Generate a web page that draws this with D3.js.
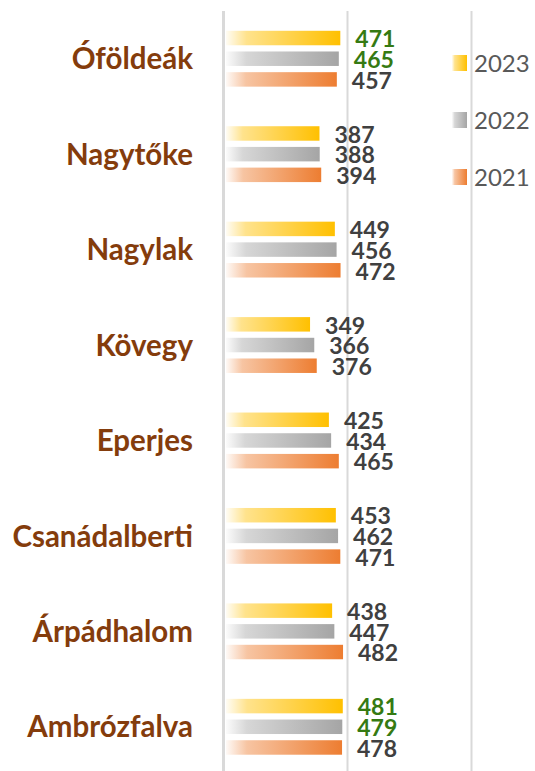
<!DOCTYPE html>
<html>
<head>
<meta charset="utf-8">
<script src="https://cdn.jsdelivr.net/npm/d3@7"></script>
<style>
 body { margin: 0; background: #fff; }
 .cat { font-family: Lato, "Noto Sans", sans-serif; font-weight: bold; fill: #843C0C; }
 .val { font-family: Lato, "Noto Sans", sans-serif; font-weight: bold; }
 .leg { font-family: Lato, "Noto Sans", sans-serif; fill: #595959; }
</style>
</head>
<body>
<svg id="chart" width="535" height="771"></svg>
<script>
 const categories = ['Óföldeák', 'Nagytőke', 'Nagylak', 'Kövegy', 'Eperjes', 'Csanádalberti', 'Árpádhalom', 'Ambrózfalva'];
 const years = ['2023', '2022', '2021'];
 const v2023 = [471, 387, 449, 349, 425, 453, 438, 481];
 const v2022 = [465, 388, 456, 366, 434, 462, 447, 479];
 const v2021 = [457, 394, 472, 376, 465, 471, 482, 478];
 // which labels are printed green (per category, per year)
 const green2023 = [true, false, false, false, false, false, false, true];
 const green2022 = [true, false, false, false, false, false, false, true];
 const green2021 = [false, false, false, false, false, false, false, false];
 const gridTicks = [0, 500, 1000];

 const series = [
   { year: years[0], values: v2023, green: green2023, color: '#FFC000' },
   { year: years[1], values: v2022, green: green2022, color: '#A5A5A5' },
   { year: years[2], values: v2021, green: green2021, color: '#ED7D31' }
 ];

 const svg = d3.select('#chart');
 const x = d3.scaleLinear().domain([0, 1000]).range([223.5, 471.5]);
 const y = d3.scaleBand().domain(categories).range([11, 774.5]);
 const sub = d3.scaleBand().domain(years).range([-30, 30]).paddingInner(0.3).paddingOuter(0.1);

 // gradients
 const defs = svg.append('defs');
 series.forEach((s, i) => {
   const g = defs.append('linearGradient').attr('id', 'grad' + i)
     .attr('x1', '0%').attr('x2', '100%').attr('y1', '0%').attr('y2', '0%');
   g.append('stop').attr('offset', '0%').attr('stop-color', s.color).attr('stop-opacity', 0.04);
   g.append('stop').attr('offset', '18%').attr('stop-color', s.color).attr('stop-opacity', 0.45);
   g.append('stop').attr('offset', '100%').attr('stop-color', s.color).attr('stop-opacity', 1);
 });

 // gridlines
 svg.selectAll('.grid')
   .data(gridTicks)
   .enter()
   .append('line')
   .attr('x1', d => x(d)).attr('x2', d => x(d))
   .attr('y1', 11).attr('y2', 771)
   .attr('stroke', '#D9D9D9')
   .attr('stroke-width', d => d === 0 ? 3 : 2);

 // bars + value labels
 series.forEach((s, i) => {
   const grp = svg.append('g');
   grp.selectAll('rect')
     .data(categories)
     .enter()
     .append('rect')
     .attr('x', x(0) + 2.5)
     .attr('y', c => y(c) + y.bandwidth() / 2 + sub(s.year))
     .attr('width', (c, j) => x(s.values[j]) - x(0) - 2.5)
     .attr('height', sub.bandwidth())
     .attr('fill', 'url(#grad' + i + ')');

   grp.selectAll('text')
     .data(categories)
     .enter()
     .append('text')
     .attr('class', 'val')
     .attr('x', (c, j) => x(s.values[j]) + 15)
     .attr('y', c => y(c) + y.bandwidth() / 2 + sub(s.year) + sub.bandwidth() / 2 + 1)
     .attr('dy', '0.36em')
     .attr('font-size', 23)
     .attr('fill', (c, j) => s.green[j] ? '#357A12' : '#404040')
     .text((c, j) => s.values[j]);
 });

 // category labels
 svg.selectAll('.cat')
   .data(categories)
   .enter()
   .append('text')
   .attr('class', 'cat')
   .attr('x', 193)
   .attr('y', c => y(c) + y.bandwidth() / 2)
   .attr('dy', '0.36em')
   .attr('text-anchor', 'end')
   .attr('font-size', 29.5)
   .text(c => c);

 // legend
 const leg = svg.append('g');
 series.forEach((s, i) => {
   const cy = 63 + i * 57;
   leg.append('rect')
     .attr('x', 452).attr('y', cy - 8)
     .attr('width', 15).attr('height', 16)
     .attr('fill', 'url(#grad' + i + ')');
   leg.append('text')
     .attr('class', 'leg')
     .attr('x', 474).attr('y', cy)
     .attr('dy', '0.36em')
     .attr('font-size', 24)
     .text(s.year);
 });
</script>
</body>
</html>
